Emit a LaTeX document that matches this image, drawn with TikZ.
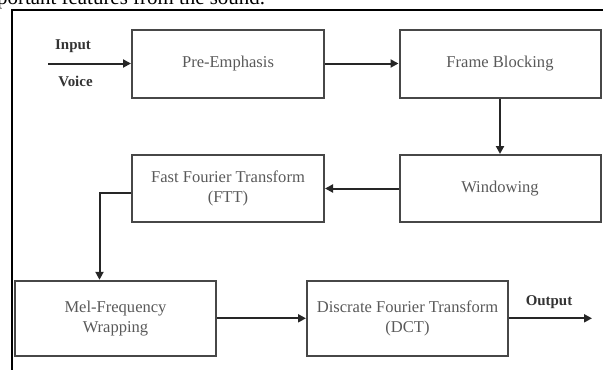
\documentclass[tikz,border=0pt]{standalone}
\usepackage{fontspec}
\setmainfont{Liberation Serif}
\usetikzlibrary{arrows.meta}

\begin{document}
\begin{tikzpicture}[x=1bp,y=-1bp,
    block/.style={draw=black!72, line width=2bp, text=black!65,
        font=\fontsize{16.6}{20}\selectfont, align=center, inner sep=0pt,
        minimum width=201bp, minimum height=68bp},
    flow/.style={->, line width=2bp, draw=black!85},
    lbl/.style={font=\bfseries\fontsize{15}{17}\selectfont, text=black!80},
    >={Triangle[length=8bp,width=8bp]}]
        \useasboundingbox (0,0) rectangle (603,369);
        \begin{scope}
            \clip (0,0) rectangle (603,369);
            % text cut off above the figure
            \node[anchor=base west, inner sep=0pt, font=\fontsize{21}{24}\selectfont] (caption) at (-3,4) {portant features from the sound.};
            % frame of the figure
            \draw[line width=2bp] (12,380) -- (12,10) -- (610,10);
        \end{scope}

        % Draw the blocks
        \node[block, minimum width=192bp] (pre) at (228,63.5) {Pre-Emphasis};
        \node[block] (frame) at (500,63.5) {Frame Blocking};
        \node[block, minimum height=67bp] (win) at (500,188.5) {Windowing};
        \node[block, minimum width=192bp, minimum height=67bp] (fft) at (228,188.5) {Fast Fourier Transform\\(FTT)};
        \node[block, minimum height=75bp] (mel) at (115.5,318.3) {Mel-Frequency\\Wrapping};
        \node[block, minimum height=75bp] (dct) at (407.5,318.3) {Discrate Fourier Transform\\(DCT)};

        % Input and output
        \coordinate (in) at (48,63.5);
        \coordinate (out) at (592,318.3);
        \node[lbl] (input) at (73,46) {Input};
        \node[lbl] (voice) at (75.5,81) {Voice};
        \node[lbl] (output) at (549,302) {Output};

        % Draw the arrows
        \coordinate (bend) at (99.5,192.5);
        \draw[flow] (in) -- (pre);
        \draw[flow] (pre) -- (frame);
        \draw[flow] (frame) -- (win);
        \draw[flow] (win) -- (fft);
        \draw[flow] (fft.west |- bend) -- (bend) -- (bend |- mel.north);
        \draw[flow] (mel) -- (dct);
        \draw[flow] (dct) -- (out);
    \end{tikzpicture}
\end{document}
